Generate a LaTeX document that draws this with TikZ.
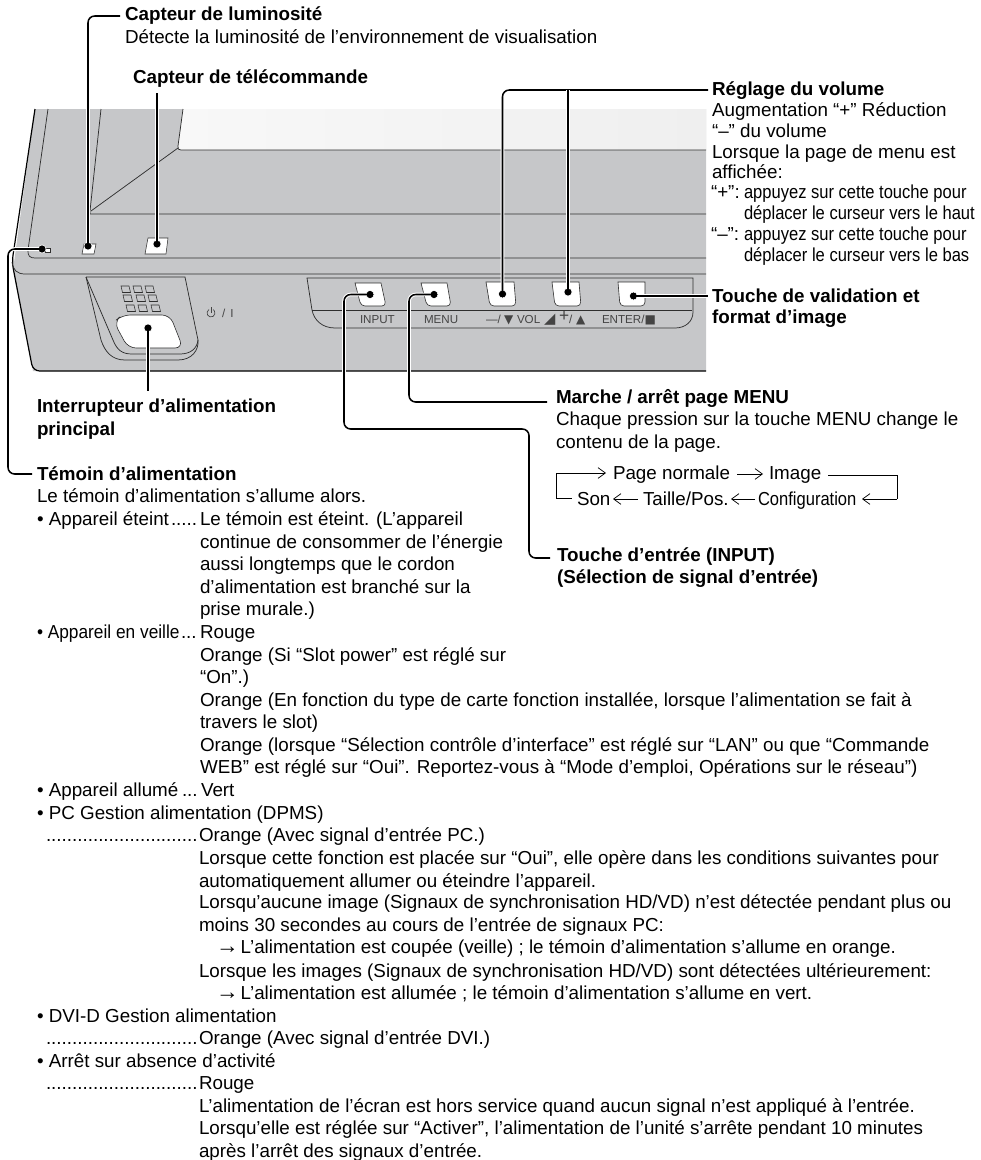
\documentclass[tikz,border=0pt]{standalone}
\usepackage{fontspec}
\usetikzlibrary{arrows.meta}
\setmainfont{Liberation Sans}
\newfontfamily\condfont[FakeStretch=0.88]{Liberation Sans}
\newfontfamily\condveille[FakeStretch=0.92]{Liberation Sans}
\newfontfamily\djv{DejaVu Sans}
\definecolor{panelgray}{HTML}{C6C7C9}
\definecolor{screenleft}{HTML}{F8F8F8}
\definecolor{screenright}{HTML}{EFEFEF}
\definecolor{panelline}{HTML}{2E2E2E}
\definecolor{printgray}{HTML}{444444}
\newcommand{\longarrow}{{\fontsize{17}{17}\selectfont →}\hspace{1.5pt}}
\tikzset{
  x=0.75pt,y=-0.75pt,
  txt/.style={anchor=base west,inner sep=0pt,outer sep=0pt,font=\fontsize{14.1}{17}\selectfont},
  hd/.style={txt,font=\fontsize{14.1}{17}\selectfont\bfseries},
  cond/.style={txt,font=\fontsize{14.1}{17}\selectfont\condfont},
  prt/.style={anchor=base west,inner sep=0pt,outer sep=0pt,text=printgray,font=\fontsize{8.7}{11}\selectfont},
  sym/.style={prt,font=\fontsize{9}{11}\selectfont\djv},
  pl/.style={draw=panelline,line width=0.55pt},
  btn/.style={draw=panelline,line width=0.45pt,fill=white},
  keyhole/.style={draw=panelline,line width=0.4pt},
  dotp/.style={circle,fill=black,draw=white,line width=0.5pt,minimum size=6pt,inner sep=0pt},
  lead/.style={draw=black,line width=1.15pt,rounded corners=5pt,preaction={draw=white,line width=2.7pt}},
  flow/.style={draw=black,line width=0.55pt},
  flowa/.style={flow,-{Straight Barb[length=5.5pt,width=8pt,line width=0.55pt]}},
}
\begin{document}
\begin{tikzpicture}
\useasboundingbox (0,0) rectangle (981,1160);
% ---------- panel ----------
\fill[panelgray] (35,109) -- (706,109) -- (706,371) -- (33,371) -- (13,270) -- cycle;
\shade[left color=screenleft,right color=screenright] (183,109) -- (706,109) -- (706,150) -- (181,150) -- (178,148) -- cycle;
\draw[draw=black,line width=0.9pt,rounded corners=5pt] (35,109) -- (12,262) -- (33,371) -- (706,371);
\draw[pl] (183,109) -- (178,146) .. controls (177.5,149) and (178.5,150) .. (181,150) -- (706,150);
\draw[pl] (178,148) -- (91,211);
\draw[pl] (101,109) -- (90,211) -- (90,214) -- (706,214);
\draw[pl] (48,109) -- (28,250) .. controls (27.5,256) and (30,258) .. (35,258) -- (706,258);
\draw[pl] (12,262) .. controls (13,270) and (17,274) .. (25,274) -- (706,274);
% LED and sensors
\draw[draw=panelline,line width=0.4pt,fill=white] (45,248.5) rectangle (50,252.5);
\draw[draw=panelline,line width=0.4pt,fill=white] (82,254) -- (84,244) -- (96,244) -- (94,254) -- cycle;
\draw[draw=panelline,line width=0.4pt,fill=white] (145,254) -- (148,238) -- (168,238) -- (166,254) -- cycle;
% power switch
\draw[pl] (86,277) -- (185,277) -- (198,340) .. controls (199,350) and (192,360) .. (178,360) -- (125,360) .. controls (112,360) and (105,352) .. (101,340) -- (86,277);
\draw[pl] (86,277) -- (113,340) .. controls (117,350) and (122,354) .. (132,354) -- (180,354) .. controls (190,354) and (197,349) .. (198,340);
\foreach \a/\b in {121/286,133/286,145/286,123/295,136/295,148/295,126/305,138/305,151/305}{
  \draw[keyhole] (\a,\b) -- ({\a+8},\b) -- ({\a+9.5},{\b+6.5}) -- ({\a+1.5},{\b+6.5}) -- cycle;
}
\draw[draw=panelline,line width=0.45pt,fill=white,rounded corners=6pt] (122,315) -- (170,315) -- (183,348) -- (128,348) -- (114,322) -- cycle;
\draw[draw=printgray,line width=0.5pt] (209,309.5) arc[start angle=120,end angle=420,radius=3pt];
\draw[draw=printgray,line width=0.5pt] (211,307) -- (211,313);
\node[prt] (pwrsym) at (222,317) {/ \,I};
% buttons tray
\draw[pl] (307,278) -- (693,278) -- (693,312) .. controls (693,322) and (685,328) .. (675,328) -- (335,328) .. controls (322,328) and (314,320) .. (312,310) -- cycle;
\draw[pl] (312,310) -- (692,310);
\draw[btn] (355,283) -- (381,283) [rounded corners=3pt] -- (386,306) -- (361,306) [sharp corners] -- cycle;
\draw[btn] (421,283) -- (447,283) [rounded corners=3pt] -- (451,306) -- (427,306) [sharp corners] -- cycle;
\draw[btn] (486,282) -- (514,282) [rounded corners=3pt] -- (516,306) -- (490,306) [sharp corners] -- cycle;
\draw[btn] (552,282) -- (579,282) [rounded corners=3pt] -- (581,306) -- (555,306) [sharp corners] -- cycle;
\draw[btn] (618,282) -- (645,282) [rounded corners=3pt] -- (645,306) -- (620,306) [sharp corners] -- cycle;
\node[prt] (linput) at (360,323) {INPUT};
\node[prt] (lmenu) at (424,323) {MENU};
\node[prt] (lminus) at (486,323) {—/};
\node[sym] (ldown) at (504,323) {▼};
\node[prt] (lvol) at (517,323) {VOL};
\node[sym,font=\fontsize{11}{11}\selectfont\djv] (lwedge) at (544,323) {◢};
\node[prt,font=\fontsize{13}{13}\selectfont] (lplus) at (559,321) {+};
\node[prt] (lslash) at (569,323) {/};
\node[sym] (lup) at (576,323) {▲};
\node[prt] (lenter) at (602,323) {ENTER/};
\node[sym] (lstop) at (644.5,323) {■};
% ---------- anchors ----------
\node[dotp] (dled) at (42,249) {};
\node[dotp] (dlum) at (88,246) {};
\node[dotp] (drem) at (157,244) {};
\node[dotp] (dsw) at (148,328) {};
\node[dotp] (dinp) at (370,294.5) {};
\node[dotp] (dmen) at (434,294.5) {};
\node[dotp] (dvm) at (502.5,294) {};
\node[dotp] (dvp) at (568,292) {};
\node[dotp] (dent) at (633.5,296) {};
\coordinate (elum) at (120,16);
\coordinate (erem) at (157,93);
\coordinate (esw) at (148,391);
\coordinate (eled) at (32,474);
\coordinate (evol) at (708,90);
\coordinate (eent) at (708,296);
\coordinate (emen) at (547,402);
\coordinate (einp) at (550,558);
% ---------- leaders ----------
\path[lead] (dlum.center) |- (elum);
\path[lead] (drem.center) -- (erem);
\path[lead] (dsw.center) -- (esw);
\path[lead] (dled.center) -- (8,249) -- (8,474) -- (eled);
\path[lead] (dvm.center) -- (502.5,90) -- (evol);
\path[lead] (dvp.center) -- (568,90);
\path[lead] (dent.center) -- (eent);
\path[lead] (dmen.center) -- (409,294.5) -- (409,402) -- (emen);
\path[lead] (dinp.center) -- (344,294.5) -- (344,429) -- (529,429) -- (529,558) -- (einp);
\foreach \n in {dled,dlum,drem,dsw,dinp,dmen,dvm,dvp,dent}{\fill (\n) circle[radius=2.5pt];}
% ---------- top labels ----------
\node[hd] (t01) at (125,21) {Capteur de luminosité};
\node[txt] (t02) at (125,43) {Détecte la luminosité de l’environnement de visualisation};
\node[hd] (t03) at (133,83) {Capteur de télécommande};
% right labels
\node[hd] (r01) at (712,95) {Réglage du volume};
\node[txt] (r02) at (712,116) {Augmentation “+” Réduction};
\node[txt] (r03) at (712,137) {“–” du volume};
\node[txt] (r04) at (712,158) {Lorsque la page de menu est};
\node[txt] (r05) at (712,178) {affichée:};
\node[txt] (r06) at (711,198) {“+”:};
\node[cond] (r07) at (744,198) {appuyez sur cette touche pour};
\node[cond] (r08) at (744,219) {déplacer le curseur vers le haut};
\node[txt] (r09) at (711,240) {“–”:};
\node[cond] (r10) at (744,240) {appuyez sur cette touche pour};
\node[cond] (r11) at (744,261) {déplacer le curseur vers le bas};
\node[hd] (r12) at (712,302) {Touche de validation et};
\node[hd] (r13) at (712,323) {format d’image};
% middle
\node[hd] (m01) at (37,412) {Interrupteur d’alimentation};
\node[hd] (m02) at (37,435) {principal};
\node[hd] (m03) at (556,403) {Marche / arrêt page MENU};
\node[txt] (m04) at (556,425) {Chaque pression sur la touche MENU change le};
\node[txt] (m05) at (556,448) {contenu de la page.};
\node[txt] (f1) at (613,479) {Page normale};
\node[txt] (f2) at (769,479) {Image};
\node[txt] (f3) at (577,505) {Son};
\node[txt] (f4) at (643,505) {Taille/Pos.};
\node[cond] (f5) at (758,505) {Configuration};
\coordinate (fa) at (556,473);
\coordinate (fb) at (897,475);
\path[flowa] (fa) -- (606,473);
\draw[flow] (fa) -- (556,498) -- (572,498);
\path[flowa] (737,474) -- (763,474);
\draw[flow] (828,475) -- (fb) -- (897,499);
\path[flowa] (897,499) -- (862,499);
\path[flowa] (755,499) -- (731,499);
\path[flowa] (638,499) -- (613,499);
\node[hd] (m06) at (557,561) {Touche d’entrée (INPUT)};
\node[hd] (m07) at (557,583) {(Sélection de signal d’entrée)};
% left column
\node[hd] (l01) at (37,480) {Témoin d’alimentation};
\node[txt] (l02) at (37,502) {Le témoin d’alimentation s’allume alors.};
\node[txt] (l03) at (37,525) {• Appareil éteint};
\node[txt] (l03d) at (171,525) {.....};
\node[txt] (c03) at (200,525) {Le témoin est éteint. (L’appareil};
\node[txt] (c04) at (200,548) {continue de consommer de l’énergie};
\node[txt] (c05) at (200,570) {aussi longtemps que le cordon};
\node[txt] (c06) at (200,593) {d’alimentation est branché sur la};
\node[txt] (c07) at (200,615) {prise murale.)};
\node[txt,font=\fontsize{14.1}{17}\selectfont\condveille] (l08) at (37,638) {• Appareil en veille};
\node[txt] (l08d) at (181,638) {...};
\node[txt] (c08) at (200,638) {Rouge};
\node[txt] (c09) at (200,661) {Orange (Si “Slot power” est réglé sur};
\node[txt] (c10) at (200,683) {“On”.)};
\node[txt] (c11) at (200,706) {Orange (En fonction du type de carte fonction installée, lorsque l’alimentation se fait à};
\node[txt] (c12) at (200,728) {travers le slot)};
\node[txt] (c13) at (200,751) {Orange (lorsque “Sélection contrôle d’interface” est réglé sur “LAN” ou que “Commande};
\node[txt] (c14) at (200,773) {WEB” est réglé sur “Oui”. Reportez-vous à “Mode d’emploi, Opérations sur le réseau”)};
\node[txt] (l15) at (37,796) {• Appareil allumé};
\node[txt] (l15d) at (182,796) {...};
\node[txt] (c15) at (201,796) {Vert};
\node[txt] (l16) at (37,819) {• PC Gestion alimentation (DPMS)};
\node[txt] (l17) at (46,841) {.............................};
\node[txt] (c17) at (199,841) {Orange (Avec signal d’entrée PC.)};
\node[txt] (c18) at (199,864) {Lorsque cette fonction est placée sur “Oui”, elle opère dans les conditions suivantes pour};
\node[txt] (c19) at (199,887) {automatiquement allumer ou éteindre l’appareil.};
\node[txt] (c20) at (199,908) {Lorsqu’aucune image (Signaux de synchronisation HD/VD) n’est détectée pendant plus ou};
\node[txt] (c21) at (199,931) {moins 30 secondes au cours de l’entrée de signaux PC:};
\node[txt] (c22) at (216,953) {\longarrow L’alimentation est coupée (veille) ; le témoin d’alimentation s’allume en orange.};
\node[txt] (c23) at (199,977) {Lorsque les images (Signaux de synchronisation HD/VD) sont détectées ultérieurement:};
\node[txt] (c24) at (216,999) {\longarrow L’alimentation est allumée ; le témoin d’alimentation s’allume en vert.};
\node[txt] (l25) at (37,1022) {• DVI-D Gestion alimentation};
\node[txt] (l26) at (46,1044) {.............................};
\node[txt] (c26) at (199,1044) {Orange (Avec signal d’entrée DVI.)};
\node[txt] (l27) at (37,1067) {• Arrêt sur absence d’activité};
\node[txt] (l28) at (46,1089) {.............................};
\node[txt] (c28) at (199,1089) {Rouge};
\node[txt] (c29) at (199,1112) {L’alimentation de l’écran est hors service quand aucun signal n’est appliqué à l’entrée.};
\node[txt] (c30) at (199,1134) {Lorsqu’elle est réglée sur “Activer”, l’alimentation de l’unité s’arrête pendant 10 minutes};
\node[txt] (c31) at (199,1157) {après l’arrêt des signaux d’entrée.};
\end{tikzpicture}
\end{document}
